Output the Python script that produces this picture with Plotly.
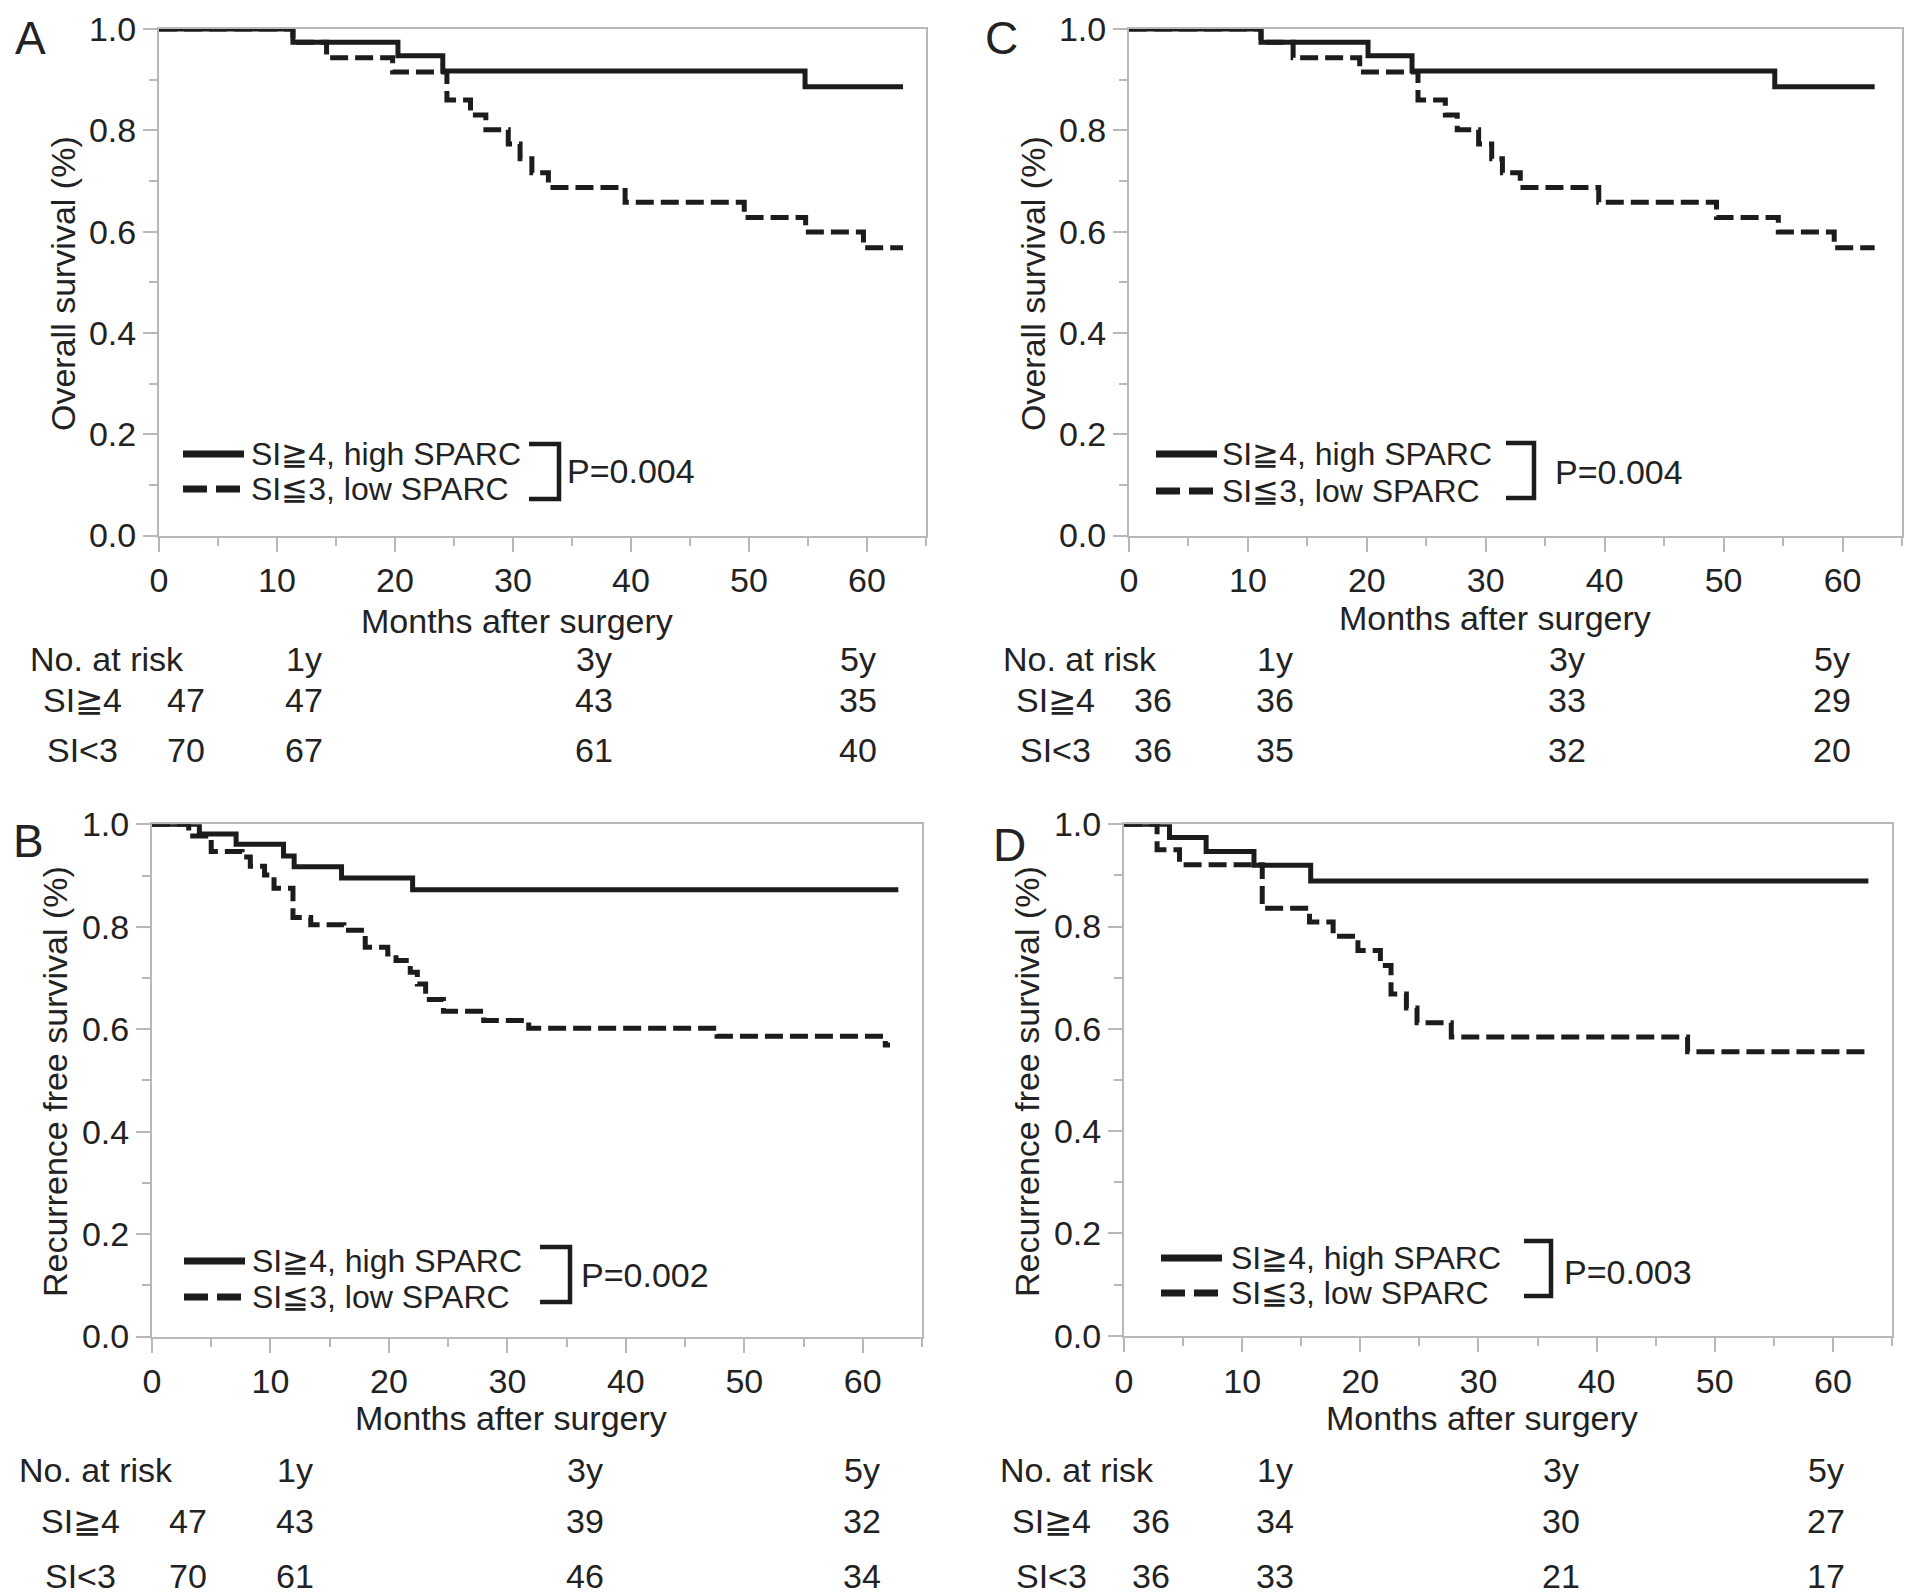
import plotly.graph_objects as go

W, H = 1913, 1594
PAGE_MARGIN = 8  # default body margin of the html page

# --- data ---------------------------------------------------------------
# A: overall survival, cohort 1
a_hi_t = [0, 11.35, 20.25, 24.05, 54.75, 63.05]
a_hi_s = [1.0, 0.974, 0.947, 0.917, 0.886, 0.886]
a_lo_t = [0, 11.35, 14.2, 19.8, 24.4, 26.4, 27.7, 29.6, 30.6, 31.6, 33.0, 39.5, 49.6, 54.8, 59.7, 63.05]
a_lo_s = [1.0, 0.974, 0.943, 0.915, 0.860, 0.830, 0.801, 0.773, 0.744, 0.716, 0.687, 0.658, 0.628, 0.599, 0.568, 0.568]

# C: overall survival, cohort 2
c_hi_t = [0, 11.1, 20.1, 23.8, 54.3, 62.7]
c_hi_s = [1.0, 0.974, 0.947, 0.917, 0.886, 0.886]
c_lo_t = [0, 11.1, 13.8, 19.4, 24.3, 26.6, 27.6, 29.4, 30.5, 31.4, 32.9, 39.5, 49.4, 54.6, 59.3, 62.7]
c_lo_s = [1.0, 0.974, 0.943, 0.915, 0.860, 0.830, 0.801, 0.773, 0.744, 0.716, 0.687, 0.658, 0.628, 0.599, 0.568, 0.568]

# B: recurrence free survival, cohort 1
b_hi_t = [0, 4.0, 7.1, 11.1, 12.0, 16.0, 22.0, 63.0]
b_hi_s = [1.0, 0.981, 0.961, 0.938, 0.917, 0.895, 0.872, 0.872]
b_lo_t = [0, 3.1, 5.0, 7.6, 8.3, 9.5, 10.3, 11.9, 13.4, 16.2, 18.0, 19.9, 20.6, 21.8, 22.4,
          23.1, 24.6, 28.0, 31.8, 47.7, 61.9, 62.3]
b_lo_s = [1.0, 0.977, 0.947, 0.936, 0.918, 0.901, 0.875, 0.818, 0.804, 0.793, 0.760, 0.747, 0.734, 0.711, 0.688,
          0.658, 0.635, 0.617, 0.602, 0.586, 0.569, 0.569]

# D: recurrence free survival, cohort 2
d_hi_t = [0, 3.85, 6.95, 11.0, 15.8, 63.0]
d_hi_s = [1.0, 0.974, 0.947, 0.920, 0.889, 0.889]
d_lo_t = [0, 2.8, 4.7, 11.7, 15.7, 17.7, 19.8, 21.7, 22.6, 23.9, 24.8, 27.7, 47.7, 63.0]
d_lo_s = [1.0, 0.950, 0.921, 0.836, 0.809, 0.781, 0.753, 0.724, 0.668, 0.641, 0.612, 0.584, 0.555, 0.555]

group_names = ["SI≧4, high SPARC", "SI≦3, low SPARC"]
risk_rows = ["SI≧4", "SI<3"]
risk_cols = ["1y", "3y", "5y"]

a_risk = [[47, 47, 43, 35], [70, 67, 61, 40]]
c_risk = [[36, 36, 33, 29], [36, 35, 32, 20]]
b_risk = [[47, 43, 39, 32], [70, 61, 46, 34]]
d_risk = [[36, 34, 30, 27], [36, 33, 21, 17]]

p_values = {"A": "P=0.004", "C": "P=0.004", "B": "P=0.002", "D": "P=0.003"}
os_title = "Overall survival (%)"
rfs_title = "Recurrence free survival (%)"
x_title = "Months after surgery"

# --- layout (pixel positions in the 1913x1594 page) ---------------------
panels = {
    "A": dict(ax="", box=(159, 926, 29, 535.5), data=(a_hi_t, a_hi_s, a_lo_t, a_lo_s), risk=a_risk,
              ytitle=os_title, letter=(30, 38), yt=(63, 284), xt=(517, 621),
              leg=dict(line=(183, 244), rows=(454, 489), text=249, br=(529, 559, 444, 499), p=(565, 471)),
              rk=dict(head=27.6, lab=82, cols=(186, 304, 594, 858), rows=(659, 700, 750))),
    "C": dict(ax="2", box=(1129, 1902, 29, 535.5), data=(c_hi_t, c_hi_s, c_lo_t, c_lo_s), risk=c_risk,
              ytitle=os_title, letter=(1001, 38), yt=(1033, 284), xt=(1495, 618),
              leg=dict(line=(1156, 1217), rows=(454, 491), text=1220, br=(1506, 1534, 443, 498), p=(1553, 472)),
              rk=dict(head=1001, lab=1055, cols=(1153, 1275, 1567, 1832), rows=(659, 700, 750))),
    "B": dict(ax="3", box=(152, 922, 824.3, 1336.5), data=(b_hi_t, b_hi_s, b_lo_t, b_lo_s), risk=b_risk,
              ytitle=rfs_title, letter=(28, 841), yt=(55, 1082), xt=(511, 1418),
              leg=dict(line=(184, 245), rows=(1261, 1297), text=250, br=(540, 570, 1247, 1302), p=(579, 1275)),
              rk=dict(head=17, lab=80, cols=(188, 295, 585, 862), rows=(1470, 1521, 1576))),
    "D": dict(ax="4", box=(1124, 1892, 824.3, 1335.7), data=(d_hi_t, d_hi_s, d_lo_t, d_lo_s), risk=d_risk,
              ytitle=rfs_title, letter=(1009, 845), yt=(1027, 1082), xt=(1482, 1418),
              leg=dict(line=(1161, 1222), rows=(1258, 1293), text=1229, br=(1524, 1551, 1241, 1296), p=(1562, 1272)),
              rk=dict(head=998, lab=1051, cols=(1151, 1275, 1561, 1826), rows=(1470, 1521, 1576))),
}

FONT = "Liberation Sans, Arial, Helvetica, sans-serif"
INK = "#1c1c1c"
FRAME = "#b8b8b8"


def px(x):
    return (x - PAGE_MARGIN) / W


def py(y):
    return 1 - (y - PAGE_MARGIN) / H


def note(text, x, y, size=34, xanchor="center", angle=0):
    return dict(text=text, x=px(x), y=py(y), xref="paper", yref="paper", showarrow=False,
                xanchor=xanchor, yanchor="middle", textangle=angle,
                font=dict(family=FONT, size=size, color="#222"))


fig = go.Figure()
annotations = []
shapes = []
layout_axes = {}

for name, p in panels.items():
    ax = p["ax"]
    x0, x1, ytop, ybot = p["box"]
    hi_t, hi_s, lo_t, lo_s = p["data"]

    fig.add_trace(go.Scatter(x=lo_t, y=lo_s, mode="lines", showlegend=False,
                             line=dict(shape="hv", color=INK, width=5, dash="18px,7px"),
                             xaxis="x" + ax, yaxis="y" + ax))
    fig.add_trace(go.Scatter(x=hi_t, y=hi_s, mode="lines", showlegend=False,
                             line=dict(shape="hv", color=INK, width=5),
                             xaxis="x" + ax, yaxis="y" + ax))

    common = dict(ticks="outside", ticklen=14, tickwidth=2, tickcolor=FRAME,
                  showline=True, linecolor=FRAME, linewidth=2, mirror=True,
                  showgrid=False, zeroline=False, automargin=False, ticklabeloverflow="allow",
                  tickfont=dict(family=FONT, size=34, color="#222"))
    layout_axes["xaxis" + ax] = dict(common, domain=[px(x0), px(x1)], range=[0, 65], tick0=0, dtick=10,
                                     anchor="y" + ax,
                                     minor=dict(dtick=5, ticks="outside", ticklen=8, tickwidth=2,
                                                tickcolor=FRAME, showgrid=False))
    layout_axes["yaxis" + ax] = dict(common, domain=[py(ybot), py(ytop)], range=[0, 1], tick0=0, dtick=0.2,
                                     tickformat=".1f", anchor="x" + ax,
                                     minor=dict(dtick=0.1, ticks="outside", ticklen=8, tickwidth=2,
                                                tickcolor=FRAME, showgrid=False))

    # panel letter and axis titles
    annotations.append(note(name, *p["letter"], size=46))
    annotations.append(note(p["ytitle"], *p["yt"], size=34, angle=-90))
    annotations.append(note(x_title, *p["xt"], size=34))

    # legend with bracket and p-value
    lg = p["leg"]
    for i, gname in enumerate(group_names):
        shapes.append(dict(type="line", xref="paper", yref="paper",
                           x0=px(lg["line"][0]), x1=px(lg["line"][1]),
                           y0=py(lg["rows"][i]), y1=py(lg["rows"][i]),
                           line=dict(color=INK, width=7, dash="solid" if i == 0 else "24px,9px")))
        annotations.append(note(gname, lg["text"], lg["rows"][i], size=32, xanchor="left"))
    bx0, bx1, by0, by1 = lg["br"]
    shapes.append(dict(type="path", xref="paper", yref="paper",
                       path=f"M {px(bx0)},{py(by0)} L {px(bx1)},{py(by0)} L {px(bx1)},{py(by1)} L {px(bx0)},{py(by1)}",
                       line=dict(color=INK, width=4.5)))
    annotations.append(note(p_values[name], lg["p"][0], lg["p"][1], size=34, xanchor="left"))

    # number at risk table
    rk = p["rk"]
    annotations.append(note("No. at risk", rk["head"], rk["rows"][0], xanchor="left"))
    for j, col in enumerate(risk_cols):
        annotations.append(note(col, rk["cols"][j + 1], rk["rows"][0]))
    for i, row in enumerate(risk_rows):
        annotations.append(note(row, rk["lab"], rk["rows"][i + 1]))
        for j, n in enumerate(p["risk"][i]):
            annotations.append(note(str(n), rk["cols"][j], rk["rows"][i + 1]))

fig.update_layout(width=W, height=H, margin=dict(l=0, r=0, t=0, b=0, autoexpand=False),
                  paper_bgcolor="white", plot_bgcolor="white",
                  font=dict(family=FONT, color="#222"),
                  annotations=annotations, shapes=shapes, **layout_axes)

fig.write_html("out.html")
